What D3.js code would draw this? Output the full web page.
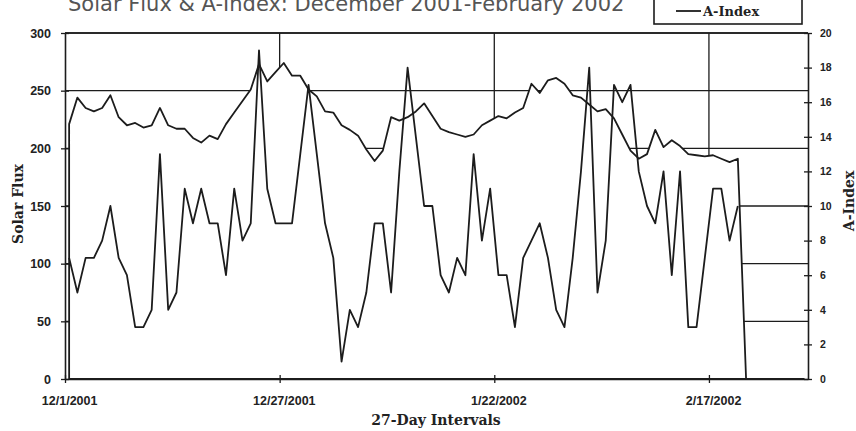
<!DOCTYPE html>
<html>
<head>
<meta charset="utf-8">
<script src="https://cdn.jsdelivr.net/npm/d3@7"></script>
<style>
  body { margin: 0; background: #fff; }
  svg { display: block; }
</style>
</head>
<body>
<div id="chart"></div>
<script>
// 数据：2001-12-01 起每日一个值（共 90 个日期类目：12 月、1 月、2 月）
const firstDay = "2001-12-01";
const dayCount = 90;

// 太阳射电流量（10.7cm），空白日期按 0 绘制
const solarFlux = [
  221, 244, 235, 232, 235, 246, 227, 220, 222, 218,
  220, 235, 220, 217, 217, 209, 205, 211, 208, 221,
  231, 241, 251, 273, 258, 266, 274, 263, 263, 251,
  245, 232, 231, 220, 216, 211, 199, 189, 198, 227,
  224, 227, 232, 239, 228, 217, 214, 212, 210, 212,
  220, 224, 228, 226, 231, 235, 256, 248, 259, 261,
  256, 246, 244, 238, 232, 234, 226, 212, 198, 191,
  195, 216, 201, 207, 202, 195, 194, 193, 194, 191,
  188, 191, 0, 0, 0, 0, 0, 0, 0, 0
];

// A 指数
const aIndex = [
  7, 5, 7, 7, 8, 10, 7, 6, 3, 3,
  4, 13, 4, 5, 11, 9, 11, 9, 9, 6,
  11, 8, 9, 19, 11, 9, 9, 9, 13, 17,
  13, 9, 7, 1, 4, 3, 5, 9, 9, 5,
  12, 18, 14, 10, 10, 6, 5, 7, 6, 13,
  8, 11, 6, 6, 3, 7, 8, 9, 7, 4,
  3, 7, 12, 18, 5, 8, 17, 16, 17, 12,
  10, 9, 12, 6, 12, 3, 3, 7, 11, 11,
  8, 10
];

const tickDays = ["2001-12-01", "2001-12-27", "2002-01-22", "2002-02-17"];
const tickLabels = ["12/1/2001", "12/27/2001", "1/22/2002", "2/17/2002"];
const fluxTicks = [0, 50, 100, 150, 200, 250, 300];
const aTicks = [0, 2, 4, 6, 8, 10, 12, 14, 16, 18, 20];

const width = 856, height = 431;
const plot = { left: 65, right: 808, top: 33, bottom: 379 };
const ink = "#1c1c1c";

const parse = d3.utcParse("%Y-%m-%d");
const start = parse(firstDay);
const days = d3.utcDay.range(start, d3.utcDay.offset(start, dayCount));

// 类目轴：每天一格，刻度在格子左边界，点在格子中心
const x = d3.scaleUtc()
  .domain([start, d3.utcDay.offset(start, dayCount)])
  .range([plot.left, plot.right]);
const bw = (plot.right - plot.left) / dayCount;
const cx = d => x(d) + bw / 2;

const yFlux = d3.scaleLinear().domain([0, 300]).range([plot.bottom, plot.top]);
const yA = d3.scaleLinear().domain([0, 20]).range([plot.bottom, plot.top]);

const svg = d3.select("#chart").append("svg")
  .attr("width", width)
  .attr("height", height);

svg.append("rect").attr("width", width).attr("height", height).attr("fill", "#fff");

// 网格线
const grid = svg.append("g").attr("stroke", ink).attr("stroke-width", 1.3);
grid.selectAll("line.h")
  .data(fluxTicks.filter(v => v > 0))
  .join("line")
  .attr("x1", plot.left).attr("x2", plot.right)
  .attr("y1", d => yFlux(d)).attr("y2", d => yFlux(d));
grid.selectAll("line.v")
  .data(tickDays.slice(1).map(parse))
  .join("line")
  .attr("x1", d => x(d)).attr("x2", d => x(d))
  .attr("y1", plot.top).attr("y2", plot.bottom);

// 太阳流量：白色面积图，遮住网格
const area = d3.area()
  .x((d, i) => cx(days[i]))
  .y0(yFlux(0))
  .y1(d => yFlux(d));
svg.append("path")
  .datum(solarFlux)
  .attr("d", area)
  .attr("fill", "#fff")
  .attr("stroke", ink)
  .attr("stroke-width", 1.8)
  .attr("stroke-linejoin", "round");

// A 指数折线
const line = d3.line()
  .x((d, i) => cx(days[i]))
  .y(d => yA(d));
svg.append("path")
  .datum(aIndex)
  .attr("d", line)
  .attr("fill", "none")
  .attr("stroke", ink)
  .attr("stroke-width", 1.8)
  .attr("stroke-linejoin", "round");

// 坐标轴
function crossTicks(g, horizontal) {
  g.selectAll(".tick line")
    .attr(horizontal ? "x1" : "y1", -4)
    .attr(horizontal ? "x2" : "y2", 4)
    .attr("stroke", ink)
    .attr("stroke-width", 1.3);
  g.select(".domain").attr("stroke", ink).attr("stroke-width", 1.6);
  g.selectAll("text")
    .attr("fill", "#222")
    .style("font-family", "'Liberation Sans', Arial, sans-serif")
    .style("font-weight", "bold");
}

svg.append("g")
  .attr("transform", `translate(${plot.left},0)`)
  .call(d3.axisLeft(yFlux).tickValues(fluxTicks).tickSizeOuter(0).tickPadding(8))
  .call(g => crossTicks(g, true))
  .call(g => g.selectAll("text").style("font-size", "12.5px"));

svg.append("g")
  .attr("transform", `translate(${plot.right},0)`)
  .call(d3.axisRight(yA).tickValues(aTicks).tickSizeOuter(0).tickPadding(6))
  .call(g => crossTicks(g, true))
  .call(g => g.selectAll("text").style("font-size", "10.5px"));

svg.append("g")
  .attr("transform", `translate(0,${plot.bottom})`)
  .call(d3.axisBottom(x)
    .tickValues(tickDays.map(parse))
    .tickFormat((d, i) => tickLabels[i])
    .tickSizeOuter(0)
    .tickPadding(11))
  .call(g => crossTicks(g, false))
  .call(g => g.selectAll("text").attr("dx", bw / 2).style("font-size", "12.5px"));

// 图表边框顶线
svg.append("line")
  .attr("x1", plot.left).attr("x2", plot.right)
  .attr("y1", plot.top).attr("y2", plot.top)
  .attr("stroke", ink).attr("stroke-width", 1.6);

// 标题与轴标题
const serif = "'DejaVu Serif', 'Liberation Serif', serif";
svg.append("text")
  .attr("x", 68).attr("y", 11)
  .attr("fill", "#555")
  .style("font-family", "'DejaVu Sans', Verdana, sans-serif")
  .style("font-size", "21px")
  .text("Solar Flux & A-Index: December 2001-February 2002");

svg.append("text")
  .attr("transform", "translate(23,204) rotate(-90)")
  .attr("text-anchor", "middle")
  .attr("fill", "#222")
  .style("font-family", serif).style("font-weight", "bold").style("font-size", "14px")
  .text("Solar Flux");

svg.append("text")
  .attr("transform", "translate(854,201) rotate(-90)")
  .attr("text-anchor", "middle")
  .attr("fill", "#222")
  .style("font-family", serif).style("font-weight", "bold").style("font-size", "14px")
  .text("A-Index");

svg.append("text")
  .attr("x", 436).attr("y", 425)
  .attr("text-anchor", "middle")
  .attr("fill", "#222")
  .style("font-family", serif).style("font-weight", "bold").style("font-size", "14px")
  .text("27-Day Intervals");

// 图例（上半部分被裁掉）
const legendNames = ["Solar Flux", "A-Index"];
const legend = svg.append("g");
legend.append("rect")
  .attr("x", 654).attr("y", -30).attr("width", 148).attr("height", 54)
  .attr("fill", "#fff").attr("stroke", ink).attr("stroke-width", 1.6);
const item = legend.selectAll("g.item")
  .data(legendNames)
  .join("g")
  .attr("transform", (d, i) => `translate(0,${i * 19 - 8})`);
item.append("line")
  .attr("x1", 676).attr("x2", 701).attr("y1", 0).attr("y2", 0)
  .attr("stroke", ink).attr("stroke-width", 1.8);
item.append("text")
  .attr("x", 703).attr("y", 5)
  .attr("fill", "#222")
  .style("font-family", serif).style("font-weight", "bold").style("font-size", "13px")
  .text(d => d);
</script>
</body>
</html>
